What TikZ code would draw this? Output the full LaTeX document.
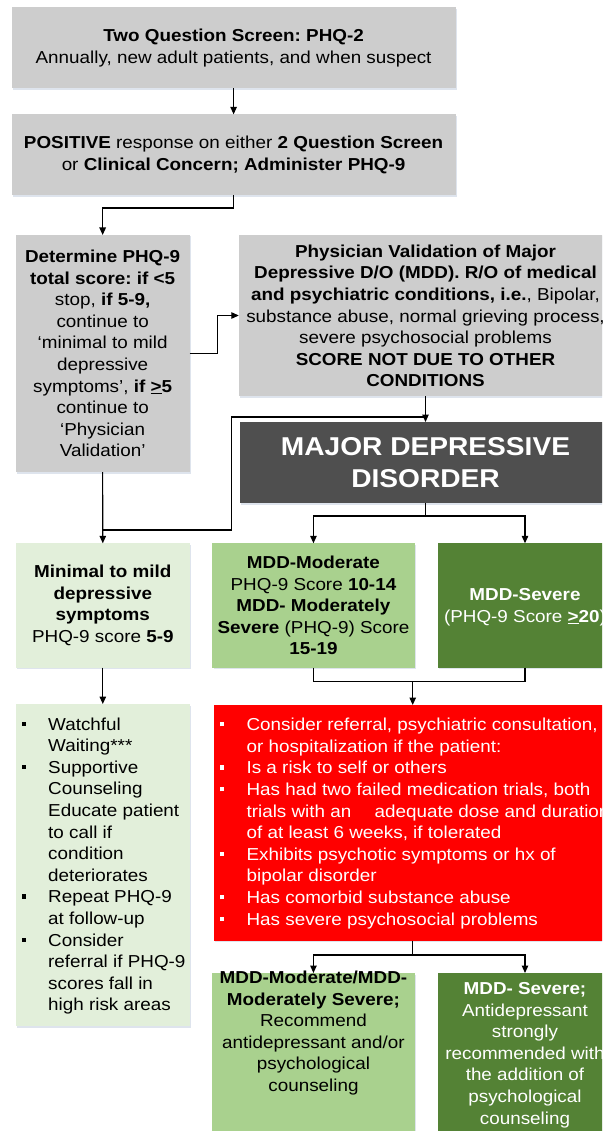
\documentclass[tikz,border=0pt]{standalone}
\usepackage{fontspec}
\setmainfont{Liberation Sans}[FakeStretch=1.09]
\usetikzlibrary{arrows.meta,shadows}
\frenchspacing

\definecolor{boxgray}{HTML}{CDCDCD}
\definecolor{mddgray}{HTML}{4F4F4F}
\definecolor{palegreen}{HTML}{E2EFDA}
\definecolor{midgreen}{HTML}{A9D18E}
\definecolor{darkgreen}{HTML}{548235}
\definecolor{alertred}{HTML}{FF0000}
\definecolor{shadowtone}{HTML}{B8C4D8}

% square bullet hung to the left of the item text
\newcommand{\sqbul}{\llap{\raisebox{4.3pt}{\rule{4.2pt}{4.2pt}}\hspace{22.3pt}}}

\begin{document}
\begin{tikzpicture}[x=1pt,y=-1pt,
  panel/.style={rectangle, inner sep=0pt, outer sep=0pt,
    drop shadow={shadow xshift=1.2pt, shadow yshift=-1.5pt, opacity=0.45, fill=shadowtone}},
  txt/.style={inner sep=0pt, align=center, font=\fontsize{17.3}{21.6}\selectfont},
  ltxt/.style={inner sep=0pt, align=left, anchor=west, font=\fontsize{17.3}{21.6}\selectfont},
  link/.style={line width=1.1pt},
  arr/.style={link, -{Triangle[length=7.5pt,width=6.5pt]}}]

\path[use as bounding box, clip] (0,0) rectangle (602,1131);
\fill[white] (0,0) rectangle (602,1131);

% ---- screening boxes
\node[panel, fill=boxgray, minimum width=444.2pt, minimum height=81pt, txt] (q2) at (233.6,47.8)
  {\textbf{Two Question Screen: PHQ-2}\\Annually, new adult patients, and when suspect};
\node[panel, fill=boxgray, minimum width=444.2pt, minimum height=80.7pt, txt] (pos) at (233.6,154.7)
  {\textbf{POSITIVE} response on either \textbf{2 Question Screen}\\or \textbf{Clinical Concern; Administer PHQ-9}};

\node[panel, fill=boxgray, minimum width=173.9pt, minimum height=237pt, txt] (det) at (102.65,353.5)
  {\textbf{Determine PHQ-9}\\\textbf{total score: if <5}\\stop, \textbf{if 5-9,}\\continue to\\‘minimal to mild\\depressive\\symptoms’, \textbf{if \underline{>}5}\\continue to\\‘Physician\\Validation’};

\node[panel, fill=boxgray, minimum width=401.2pt, minimum height=161pt] (pv) at (439.4,315.5) {};
\node[txt] (pvt) at (425.5,316)
  {\textbf{Physician Validation of Major}\\\textbf{Depressive D/O (MDD). R/O of medical}\\\textbf{and psychiatric conditions, i.e.}, Bipolar,\\substance abuse, normal grieving process,\\severe psychosocial problems\\\textbf{SCORE NOT DUE TO OTHER}\\\textbf{CONDITIONS}};

\node[panel, fill=mddgray, minimum width=400.5pt, minimum height=81pt] (mdd) at (439.75,462.5) {};
\node[inner sep=0pt, align=center, text=white, font=\fontsize{25.8}{31.7}\selectfont\bfseries] (mddt) at (425.5,462.5)
  {MAJOR DEPRESSIVE\\DISORDER};

% ---- severity boxes
\node[panel, fill=palegreen, minimum width=173.6pt, minimum height=124.4pt, txt] (min) at (102.8,605.5)
  {\textbf{Minimal to mild}\\\textbf{depressive}\\\textbf{symptoms}\\PHQ-9 score \textbf{5-9}};
\node[panel, fill=midgreen, minimum width=202.3pt, minimum height=124.4pt, txt] (mod) at (313.45,605.5)
  {\textbf{MDD-Moderate}\\PHQ-9 Score \textbf{10-14}\\\textbf{MDD- Moderately}\\\textbf{Severe} (PHQ-9) Score\\\textbf{15-19}};
\node[panel, fill=darkgreen, minimum width=202.4pt, minimum height=124.4pt] (sev) at (538.8,605.5) {};
\node[txt, text=white] (sevt) at (525,607)
  {\textbf{MDD-Severe}\\(PHQ-9 Score \textbf{\underline{>}20})};

% ---- management boxes
\node[panel, fill=palegreen, minimum width=173.6pt, minimum height=322pt] (wait) at (102.8,865) {};
\node[ltxt] (waitt) at (48,866)
  {\sqbul Watchful\\Waiting***\\\sqbul Supportive\\Counseling\\Educate patient\\to call if\\condition\\deteriorates\\\sqbul Repeat PHQ-9\\at follow-up\\\sqbul Consider\\referral if PHQ-9\\scores fall in\\high risk areas};

\node[panel, fill=alertred, minimum width=425.8pt, minimum height=235.7pt] (red) at (427.1,822.85) {};
\node[ltxt, text=white] (redt) at (246.4,823.5)
  {\sqbul Consider referral, psychiatric consultation,\\or hospitalization if the patient:\\\sqbul Is a risk to self or others\\\sqbul Has had two failed medication trials, both\\trials with an\hspace{18pt} adequate dose and duration\\of at least 6 weeks, if tolerated\\\sqbul Exhibits psychotic symptoms or hx of\\bipolar disorder\\\sqbul Has comorbid substance abuse\\\sqbul Has severe psychosocial problems};

\node[panel, fill=midgreen, minimum width=202.3pt, minimum height=177pt] (bmod) at (313.45,1061.5) {};
\node[txt] (bmodt) at (313.45,1033)
  {\textbf{MDD-Moderate/MDD-}\\\textbf{Moderately Severe;}\\Recommend\\antidepressant and/or\\psychological\\counseling};
\node[panel, fill=darkgreen, minimum width=202.4pt, minimum height=177pt] (bsev) at (538.8,1061.5) {};
\node[txt, text=white] (bsevt) at (525,1055)
  {\textbf{MDD- Severe;}\\Antidepressant\\strongly\\recommended with\\the addition of\\psychological\\counseling};

% ---- connectors
\draw[arr] (q2.south) -- (pos.north);
\draw[arr] (pos.south) -- ++(0,13) -| (det.north);
\draw[arr] (det.east) -- ++(28,0) |- (pv.west);
\draw[arr] (pvt.center |- pv.south) -- (pvt.center |- mdd.north);
\draw[arr] (det.south) -- (min.north);

\path (det.south) ++(0,58) coordinate (j1);
\path (pvt.center |- mdd.north) ++(0,-5) coordinate (j2);
\draw[link] (j1) -- ++(128.9,0) |- (j2);

\path (mddt.center |- mdd.south) ++(0,13) coordinate (s1);
\draw[link] (mddt.center |- mdd.south) -- (s1);
\draw[arr] (s1) -| (mod.north);
\draw[arr] (s1) -| (sevt.center |- sev.north);

\coordinate (rjoin) at (412.7,681.7);
\draw[link] (mod.south) |- (rjoin);
\draw[link] (sevt.center |- sev.south) |- (rjoin);
\draw[arr] (rjoin) -- (rjoin |- red.north);

\draw[arr] (min.south) -- (wait.north);

\coordinate (r2) at (412.7,955);
\draw[link] (r2 |- red.south) -- (r2);
\draw[arr] (r2) -| (bmod.north);
\draw[arr] (r2) -| (bsevt.center |- bsev.north);

\end{tikzpicture}
\end{document}
